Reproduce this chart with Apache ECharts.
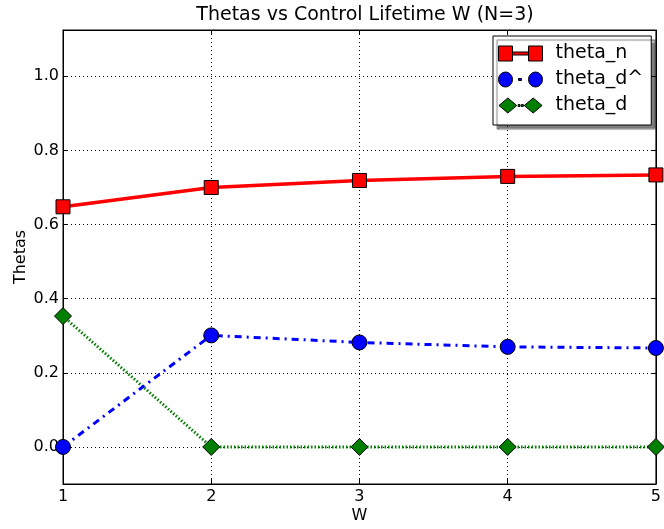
<!DOCTYPE html>
<html><head><meta charset="utf-8">
<script src="https://cdn.jsdelivr.net/npm/echarts@6/dist/echarts.min.js"></script>
<style>html,body{margin:0;padding:0;background:#fff;overflow:hidden}#c{width:664px;height:529px}</style>
</head><body><div id="c"></div>
<script>
var W = [1, 2, 3, 4, 5];
var thetaN = [0.648, 0.700, 0.719, 0.730, 0.734];
var thetaDHat = [0.0, 0.301, 0.282, 0.270, 0.267];
var thetaD = [0.353, 0.0, 0.0, 0.0, 0.0];
var yTicks = [0.0, 0.2, 0.4, 0.6, 0.8, 1.0];
var xTicks = [1, 2, 3, 4, 5];

function pairs(ys) { return W.map(function (w, i) { return [w, ys[i]]; }); }
var FONT = 'DejaVu Sans';
var chart = echarts.init(document.getElementById('c'), null, {renderer: 'canvas', width: 664, height: 529});
var gridLine = {show: true, lineStyle: {color: '#000', width: 1, type: [1, 3]}};
chart.setOption({
  animation: false,
  backgroundColor: '#fff',
  title: {text: 'Thetas vs Control Lifetime W (N=3)', left: 360, textAlign: 'center', top: 1,
    textStyle: {fontFamily: FONT, fontSize: 19, fontWeight: 'normal', color: '#000'}},
  grid: {left: 63, right: 7, top: 30, bottom: 42, show: true, borderColor: '#000', borderWidth: 1},
  legend: {
    orient: 'vertical', left: 493, top: 36,
    padding: [8, 8, 10, 5], itemGap: 7, itemWidth: 46, itemHeight: 15,
    backgroundColor: '#fff', borderColor: '#000', borderWidth: 1,
    shadowColor: 'rgba(0,0,0,0.5)', shadowOffsetX: 4, shadowOffsetY: 4, shadowBlur: 1,
    textStyle: {fontFamily: FONT, fontSize: 19, color: '#000', padding: [0, 0, 0, 7]},
    itemStyle: {borderColor: '#000', borderWidth: 1},
    data: [
      {name: 'theta_n', icon: 'path://M1,0H15V15H1Z M31,0H45V15H31Z M15,6H31V9H15Z'},
      {name: 'theta_d^', icon: 'path://M1,7.5A7,7.5 0 1,0 15,7.5A7,7.5 0 1,0 1,7.5Z M31,7.5A7,7.5 0 1,0 45,7.5A7,7.5 0 1,0 31,7.5Z M21,6.5H24V8.5H21Z'},
      {name: 'theta_d', icon: 'path://M0,7.5L9.5,-0.5L19,7.5L9.5,15.5Z M27,7.5L36.5,-0.5L46,7.5L36.5,15.5Z M20.5,6.5H22.5V8.5H20.5Z M24,6.5H26V8.5H24Z'}
    ]
  },
  xAxis: [{
    type: 'value', min: 1, max: 5, interval: 1,
    name: 'W', nameLocation: 'middle', nameGap: 24, nameMoveOverlap: false,
    nameTextStyle: {fontFamily: FONT, fontSize: 16, color: '#000'},
    axisLine: {show: true, onZero: false, lineStyle: {color: '#000'}},
    axisTick: {show: true, inside: true, length: 5, lineStyle: {color: '#000'}},
    axisLabel: {fontFamily: FONT, fontSize: 16, color: '#000', margin: 5,
      customValues: xTicks, formatter: function (v) { return String(v); }},
    splitLine: gridLine
  }, {
    type: 'value', min: 1, max: 5, interval: 1, position: 'top',
    axisLine: {show: true, onZero: false, lineStyle: {color: '#000'}},
    axisTick: {show: true, inside: true, length: 5, lineStyle: {color: '#000'}},
    axisLabel: {show: false}, splitLine: {show: false}
  }],
  yAxis: [{
    type: 'value', min: -0.1, max: 1.125,
    name: 'Thetas', nameLocation: 'middle', nameGap: 34, nameRotate: 90, nameMoveOverlap: false,
    nameTextStyle: {fontFamily: FONT, fontSize: 16, color: '#000'},
    axisLine: {show: true, onZero: false, lineStyle: {color: '#000'}},
    axisTick: {show: true, inside: true, length: 5, lineStyle: {color: '#000'}, customValues: yTicks},
    axisLabel: {fontFamily: FONT, fontSize: 16, color: '#000', margin: 4, customValues: yTicks,
      formatter: function (v) { return v.toFixed(1); }},
    splitLine: gridLine
  }, {
    type: 'value', min: -0.1, max: 1.125, position: 'right',
    axisLine: {show: true, onZero: false, lineStyle: {color: '#000'}},
    axisTick: {show: true, inside: true, length: 5, lineStyle: {color: '#000'}, customValues: yTicks},
    axisLabel: {show: false}, splitLine: {show: false}
  }],
  series: [{
    name: 'theta_n', type: 'line', data: pairs(thetaN),
    symbol: 'rect', symbolSize: 14, z: 4,
    lineStyle: {color: '#ff0000', width: 3.5, type: 'solid'},
    itemStyle: {color: '#ff0000', borderColor: '#000', borderWidth: 1}
  }, {
    name: 'theta_d^', type: 'line', data: pairs(thetaDHat),
    symbol: 'circle', symbolSize: 15, z: 3,
    lineStyle: {color: '#0000ff', width: 3, type: [7, 5, 2, 5]},
    itemStyle: {color: '#0000ff', borderColor: '#000', borderWidth: 1}
  }, {
    name: 'theta_d', type: 'line', data: pairs(thetaD),
    symbol: 'diamond', symbolSize: 17, z: 2,
    lineStyle: {color: '#007f00', width: 3, type: [1.5, 2]},
    itemStyle: {color: '#007f00', borderColor: '#000', borderWidth: 1}
  }]
});
</script></body></html>
